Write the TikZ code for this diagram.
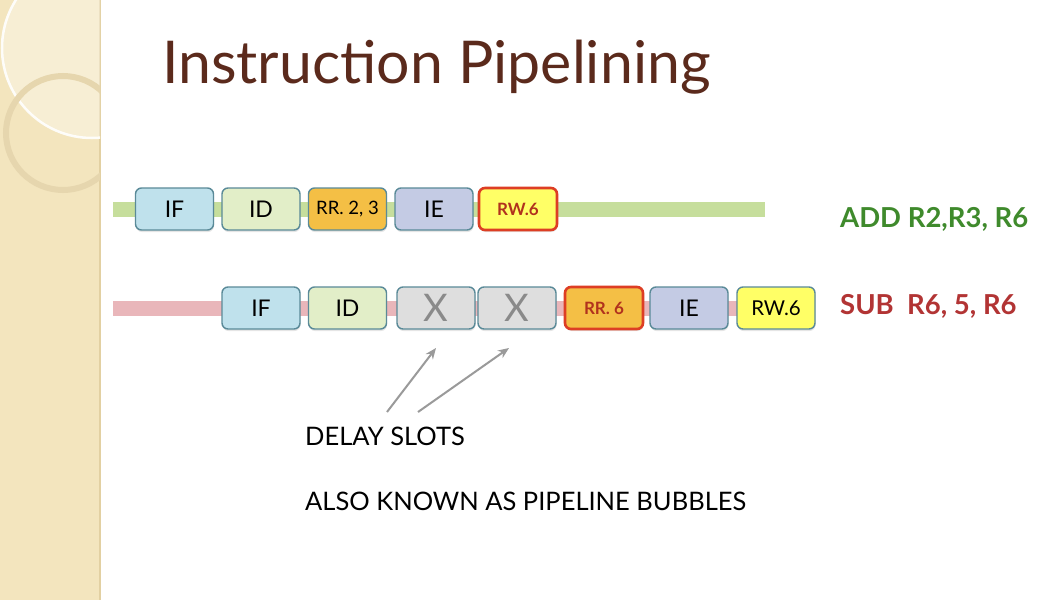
\documentclass[tikz,border=0pt]{standalone}
\usepackage{fontspec}
\setmainfont{Lato}
\usetikzlibrary{arrows.meta,shadows}
\definecolor{beige}{HTML}{F3E5BE}
\definecolor{beigeline}{HTML}{E2D0A2}
\definecolor{ringc}{HTML}{E6D6AE}
\definecolor{titlec}{HTML}{5B2A1C}
\definecolor{bordc}{HTML}{5A8A98}
\definecolor{ifc}{HTML}{BFE1EC}
\definecolor{idc}{HTML}{E2EEC8}
\definecolor{rrc}{HTML}{F4BF45}
\definecolor{iec}{HTML}{C4CBE4}
\definecolor{rwc}{HTML}{FFFF66}
\definecolor{redb}{HTML}{DD3E24}
\definecolor{xc}{HTML}{DEDEDE}
\definecolor{xt}{HTML}{8A8A8A}
\definecolor{greenbar}{HTML}{C6DE9C}
\definecolor{pinkbar}{HTML}{E9B6BA}
\definecolor{addc}{HTML}{3F8A2C}
\definecolor{subc}{HTML}{B23434}
\definecolor{arrc}{HTML}{9A9A9A}
\tikzset{
  stage/.style={draw=bordc, line width=1.4pt, rounded corners=6pt,
    minimum width=78pt, minimum height=42pt, inner sep=0pt,
    font=\fontsize{23}{26}\selectfont, text=black,
    drop shadow={opacity=0.2, shadow xshift=0.5pt, shadow yshift=-2pt}},
  redstage/.style={stage, draw=redb, line width=2.6pt, text=redb!80!black,
    font=\fontsize{17}{20}\selectfont\bfseries},
  xstage/.style={stage, fill=xc, text=xt, font=\fontsize{38}{40}\selectfont},
  bar/.style={line width=15pt},
  instr/.style={anchor=west, font=\fontsize{27.5}{30}\selectfont\bfseries},
  note/.style={anchor=base west, font=\fontsize{25.5}{28}\selectfont, text=black},
  pointer/.style={draw=arrc, line width=2pt, -{Stealth[length=11pt,width=9pt]}}
}
\begin{document}
\begin{tikzpicture}[x=1pt,y=-1pt]
\useasboundingbox (0,0) rectangle (1058,600);
\fill[white] (0,0) rectangle (1058,600);
% left decorative strip
\fill[beige] (0,0) rectangle (100,600);
\draw[beigeline, line width=2pt] (100,0) -- (100,600);
\begin{scope}
\clip (0,0) rectangle (100,600);
\fill[white, opacity=0.35] (92,48) circle (90);
\draw[white, line width=2.5pt, opacity=0.9] (92,48) circle (90);
\draw[ringc, line width=6pt] (63,133) circle (57);
\end{scope}
% title
\node[anchor=base west, text=titlec, font=\fontsize{59}{66}\selectfont, inner sep=0pt] (title) at (162,83) {Instruction Pipelining};
% bars
\draw[bar, greenbar] (113,209.5) -- (765,209.5);
\draw[bar, pinkbar] (113,308) -- (800,308);
% row 1
\node[stage, fill=ifc] (a1) at (174.5,209) {IF};
\node[stage, fill=idc] (a2) at (261,209) {ID};
\node[stage, fill=rrc, font=\fontsize{18.5}{20}\selectfont] (a3) at (347.5,209) {RR. 2, 3};
\node[stage, fill=iec] (a4) at (434,209) {IE};
\node[redstage, fill=rwc] (a5) at (518,209) {RW.6};
% row 2
\node[stage, fill=ifc] (b1) at (261,308) {IF};
\node[stage, fill=idc] (b2) at (347.5,308) {ID};
\node[xstage] (b3) at (436,308) {X};
\node[xstage] (b4) at (517,308) {X};
\node[redstage, fill=rrc] (b5) at (604,308) {RR. 6};
\node[stage, fill=iec] (b6) at (689,308) {IE};
\node[stage, fill=rwc, font=\fontsize{20.5}{22}\selectfont] (b7) at (776,308) {RW.6};
% instruction labels
\node[instr, text=addc, inner sep=0pt] (add) at (840,219) {ADD R2,R3, R6};
\node[instr, text=subc, inner sep=0pt] (sub) at (840,306) {SUB\ \ R6, 5, R6};
% notes
\node[note, inner sep=0pt] (delay) at (305,445) {DELAY SLOTS};
\node[note, inner sep=0pt] (bubbles) at (305,510) {ALSO KNOWN AS PIPELINE BUBBLES};
% arrows
\coordinate (s1) at (387,412);
\coordinate (s2) at (418,412);
\coordinate (t1) at (436,348);
\coordinate (t2) at (509,348);
\draw[pointer] (s1) -- (t1);
\draw[pointer] (s2) -- (t2);
\end{tikzpicture}
\end{document}
